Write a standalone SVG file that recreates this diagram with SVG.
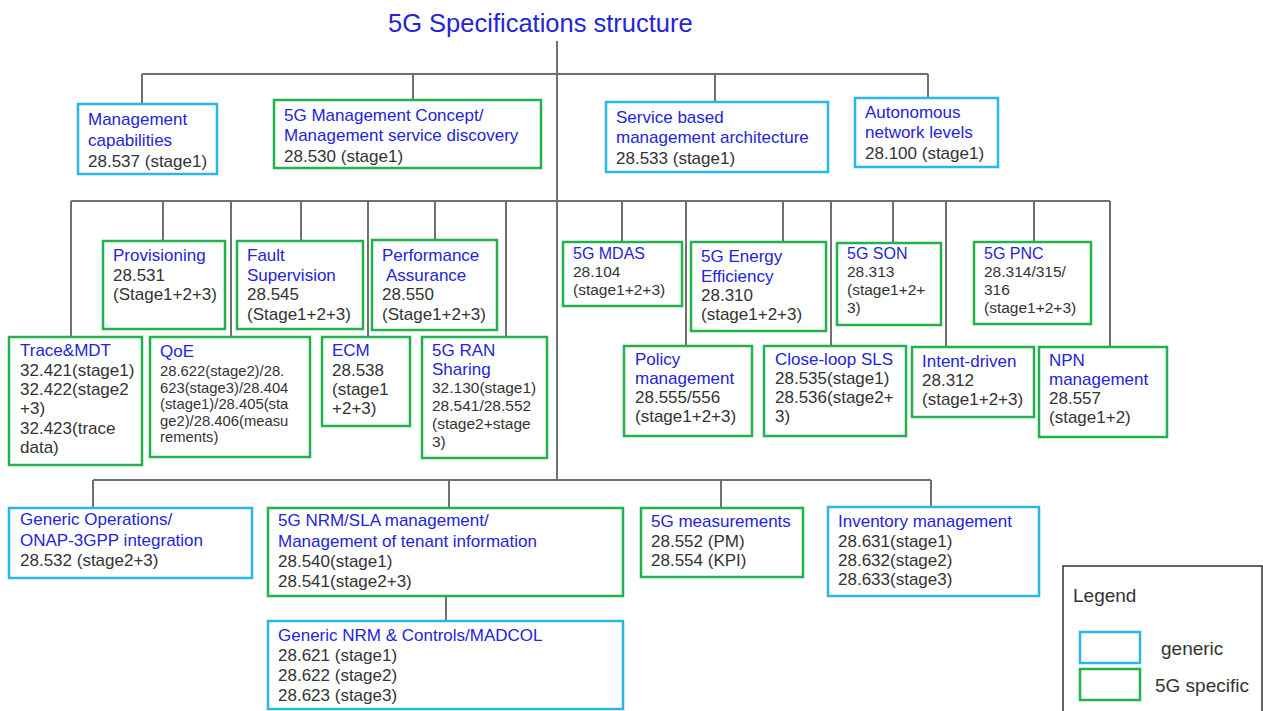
<svg xmlns="http://www.w3.org/2000/svg" width="1263" height="711" viewBox="0 0 1263 711">
<style>
text{font-family:"Liberation Sans",Arial,sans-serif;font-size:17px;fill:#333}
.b{fill:#2424d8}
.s{font-size:15.5px}
.q{font-size:14.8px}
.title{font-size:25.5px;fill:#2424d8}
.lg{font-size:19px}
.gr rect{fill:#fff;stroke:#22b14c;stroke-width:2.5}
.cy rect{fill:#fff;stroke:#2bb5e8;stroke-width:2.5}
#connectors path{stroke:#707070;stroke-width:2;fill:none}
</style>
<rect width="1263" height="711" fill="#fff"/>
<text id="title" class="title" x="388" y="32">5G Specifications structure</text>
<g id="connectors">
<path d="M557 41V480"/>
<path d="M142 74H928M142 74V104M413 74V100M715 74V102M928 74V98"/>
<path d="M71 201H1110M71 201V337M163 201V241M231 201V337M301 201V241M368 201V337M435 201V240M506 201V337M622 201V242M686 201V346M783 201V242M831 201V346M893 201V243M946 201V347M1034 201V242M1110 201V347"/>
<path d="M93 480H931M93 480V508M449 480V508M721 480V508M931 480V507M446 596V621"/>
</g>
<g id="n-mgmt-cap" class="cy"><rect x="78" y="104" width="139" height="70"/>
<text><tspan class="b" x="88" y="125">Management</tspan><tspan class="b" x="88" y="146">capabilities</tspan><tspan x="88" y="167">28.537 (stage1)</tspan></text></g>
<g id="n-concept" class="gr"><rect x="274" y="100" width="267" height="68"/>
<text><tspan class="b" x="284" y="121">5G Management Concept/</tspan><tspan class="b" x="284" y="141">Management service discovery</tspan><tspan x="284" y="162">28.530 (stage1)</tspan></text></g>
<g id="n-sba" class="cy"><rect x="606" y="102" width="222" height="70"/>
<text><tspan class="b" x="616" y="123">Service based</tspan><tspan class="b" x="616" y="143">management architecture</tspan><tspan x="616" y="164">28.533 (stage1)</tspan></text></g>
<g id="n-autonomous" class="cy"><rect x="855" y="98" width="143" height="69"/>
<text><tspan class="b" x="865" y="118">Autonomous</tspan><tspan class="b" x="865" y="138">network levels</tspan><tspan x="865" y="159">28.100 (stage1)</tspan></text></g>
<g id="n-prov" class="gr"><rect x="103" y="241" width="122" height="88"/>
<text><tspan class="b" x="113" y="261">Provisioning</tspan><tspan x="113" y="281">28.531</tspan><tspan x="113" y="300">(Stage1+2+3)</tspan></text></g>
<g id="n-fault" class="gr"><rect x="237" y="241" width="126" height="88"/>
<text><tspan class="b" x="247" y="261">Fault</tspan><tspan class="b" x="247" y="281">Supervision</tspan><tspan x="247" y="300">28.545</tspan><tspan x="247" y="320">(Stage1+2+3)</tspan></text></g>
<g id="n-perf" class="gr"><rect x="372" y="240" width="125" height="90"/>
<text><tspan class="b" x="382" y="261">Performance</tspan><tspan class="b" x="386" y="281">Assurance</tspan><tspan x="382" y="300">28.550</tspan><tspan x="382" y="320">(Stage1+2+3)</tspan></text></g>
<g id="n-mdas" class="gr"><rect x="563" y="242" width="119" height="64"/>
<text><tspan class="b" x="573" y="259" style="font-size:16px">5G MDAS</tspan><tspan class="s" x="573" y="277">28.104</tspan><tspan class="s" x="573" y="295">(stage1+2+3)</tspan></text></g>
<g id="n-energy" class="gr"><rect x="691" y="242" width="135" height="89"/>
<text><tspan class="b" x="701" y="262">5G Energy</tspan><tspan class="b" x="701" y="282">Efficiency</tspan><tspan x="701" y="301">28.310</tspan><tspan x="701" y="320">(stage1+2+3)</tspan></text></g>
<g id="n-son" class="gr"><rect x="837" y="243" width="104" height="82"/>
<text><tspan class="b" x="847" y="259" style="font-size:16px">5G SON</tspan><tspan class="s" x="847" y="277">28.313</tspan><tspan class="s" x="847" y="295">(stage1+2+</tspan><tspan class="s" x="847" y="313">3)</tspan></text></g>
<g id="n-pnc" class="gr"><rect x="974" y="242" width="117" height="82"/>
<text><tspan class="b" x="984" y="259" style="font-size:16px">5G PNC</tspan><tspan class="s" x="984" y="277">28.314/315/</tspan><tspan class="s" x="984" y="295">316</tspan><tspan class="s" x="984" y="313">(stage1+2+3)</tspan></text></g>
<g id="n-trace" class="gr"><rect x="9" y="337" width="133" height="128"/>
<text><tspan class="b" x="20" y="356">Trace&amp;MDT</tspan><tspan x="20" y="376">32.421(stage1)</tspan><tspan x="20" y="395">32.422(stage2</tspan><tspan x="20" y="414">+3)</tspan><tspan x="20" y="434">32.423(trace</tspan><tspan x="20" y="453">data)</tspan></text></g>
<g id="n-qoe" class="gr"><rect x="150" y="337" width="160" height="120"/>
<text><tspan class="b" x="160" y="357">QoE</tspan><tspan class="q" x="160" y="376">28.622(stage2)/28.</tspan><tspan class="q" x="160" y="392.5">623(stage3)/28.404</tspan><tspan class="q" x="160" y="409">(stage1)/28.405(sta</tspan><tspan class="q" x="160" y="425.5">ge2)/28.406(measu</tspan><tspan class="q" x="160" y="442">rements)</tspan></text></g>
<g id="n-ecm" class="gr"><rect x="322" y="337" width="88" height="89"/>
<text><tspan class="b" x="332" y="356">ECM</tspan><tspan x="332" y="376">28.538</tspan><tspan x="332" y="395">(stage1</tspan><tspan x="332" y="414">+2+3)</tspan></text></g>
<g id="n-ran" class="gr"><rect x="422" y="337" width="125" height="121"/>
<text><tspan class="b" x="432" y="356">5G RAN</tspan><tspan class="b" x="432" y="375">Sharing</tspan><tspan class="s" x="432" y="393">32.130(stage1)</tspan><tspan class="s" x="432" y="411">28.541/28.552</tspan><tspan class="s" x="432" y="429">(stage2+stage</tspan><tspan class="s" x="432" y="447">3)</tspan></text></g>
<g id="n-policy" class="gr"><rect x="624" y="346" width="128" height="90"/>
<text><tspan class="b" x="635" y="365">Policy</tspan><tspan class="b" x="635" y="384">management</tspan><tspan x="635" y="403">28.555/556</tspan><tspan x="635" y="422">(stage1+2+3)</tspan></text></g>
<g id="n-sls" class="gr"><rect x="764" y="346" width="142" height="90"/>
<text><tspan class="b" x="775" y="365">Close-loop SLS</tspan><tspan x="775" y="384">28.535(stage1)</tspan><tspan x="775" y="403">28.536(stage2+</tspan><tspan x="775" y="422">3)</tspan></text></g>
<g id="n-intent" class="gr"><rect x="912" y="347" width="122" height="70"/>
<text><tspan class="b" x="922" y="367">Intent-driven</tspan><tspan x="922" y="386">28.312</tspan><tspan x="922" y="405">(stage1+2+3)</tspan></text></g>
<g id="n-npn" class="gr"><rect x="1039" y="347" width="128" height="90"/>
<text><tspan class="b" x="1049" y="366">NPN</tspan><tspan class="b" x="1049" y="385">management</tspan><tspan x="1049" y="404">28.557</tspan><tspan x="1049" y="423">(stage1+2)</tspan></text></g>
<g id="n-genops" class="cy"><rect x="9" y="508" width="243" height="70"/>
<text><tspan class="b" x="20" y="525">Generic Operations/</tspan><tspan class="b" x="20" y="546">ONAP-3GPP integration</tspan><tspan x="20" y="566">28.532 (stage2+3)</tspan></text></g>
<g id="n-nrm" class="gr"><rect x="268" y="508" width="355" height="88"/>
<text><tspan class="b" x="278" y="526">5G NRM/SLA management/</tspan><tspan class="b" x="278" y="547">Management of tenant information</tspan><tspan x="278" y="567">28.540(stage1)</tspan><tspan x="278" y="587">28.541(stage2+3)</tspan></text></g>
<g id="n-gennrm" class="cy"><rect x="268" y="621" width="355" height="88"/>
<text><tspan class="b" x="278" y="641">Generic NRM &amp; Controls/MADCOL</tspan><tspan x="278" y="661">28.621 (stage1)</tspan><tspan x="278" y="681">28.622 (stage2)</tspan><tspan x="278" y="701">28.623 (stage3)</tspan></text></g>
<g id="n-meas" class="gr"><rect x="641" y="508" width="162" height="69"/>
<text><tspan class="b" x="651" y="527">5G measurements</tspan><tspan x="651" y="547">28.552 (PM)</tspan><tspan x="651" y="566">28.554 (KPI)</tspan></text></g>
<g id="n-inv" class="cy"><rect x="828" y="507" width="211" height="89"/>
<text><tspan class="b" x="838" y="527">Inventory management</tspan><tspan x="838" y="547">28.631(stage1)</tspan><tspan x="838" y="566">28.632(stage2)</tspan><tspan x="838" y="585">28.633(stage3)</tspan></text></g>
<g id="legend">
<rect x="1063" y="566" width="199" height="150" fill="#fff" stroke="#333" stroke-width="1.5"/>
<text class="lg" x="1073" y="602">Legend</text>
<g class="cy"><rect x="1080" y="632" width="60" height="31"/></g>
<text class="lg" x="1161" y="655">generic</text>
<g class="gr"><rect x="1080" y="669" width="60" height="31"/></g>
<text class="lg" x="1155" y="692">5G specific</text>
</g>
</svg>
